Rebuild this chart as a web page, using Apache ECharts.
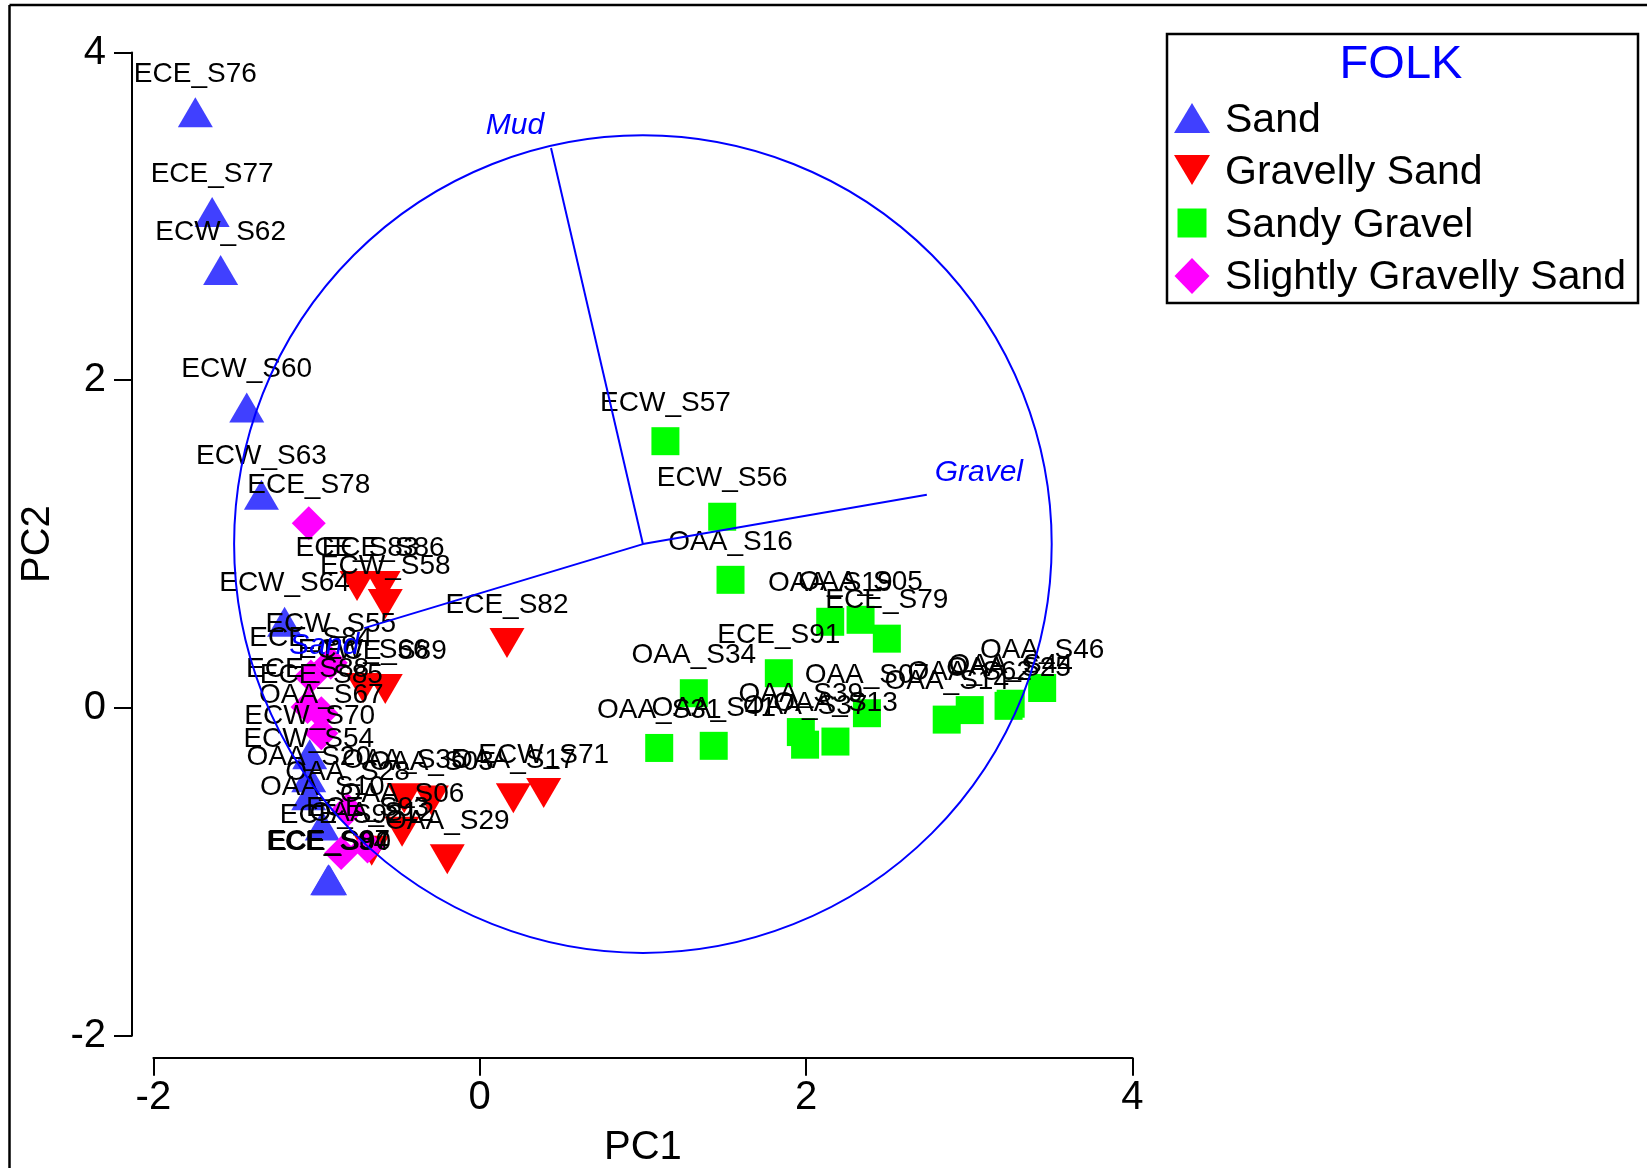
<!DOCTYPE html>
<html>
<head>
<meta charset="utf-8">
<title>PCA biplot – FOLK classes</title>
<script src="https://cdn.jsdelivr.net/npm/echarts@6/dist/echarts.min.js"></script>
<style>
  html, body { margin: 0; padding: 0; background: #ffffff; }
  #chart { width: 1647px; height: 1168px; }
</style>
</head>
<body>
<div id="chart"></div>
<script>
// FOLK sediment classes, in legend order
const folkClasses = ['Sand', 'Gravelly Sand', 'Sandy Gravel', 'Slightly Gravelly Sand'];

// Sample scores on PC1 / PC2, grouped by class
const sandNames = ['ECE_S76', 'ECE_S77', 'ECW_S62', 'ECW_S60', 'ECW_S63', 'ECW_S64', 'ECW_S70',
  'ECW_S54', 'OAA_S20', 'OAA_S10', 'ECE_S90', 'ECE_S87', 'ECE_S94'];
const sandScores = [[-1.743, 3.635], [-1.640, 3.026], [-1.588, 2.673], [-1.428, 1.833], [-1.338, 1.301],
  [-1.196, 0.526], [-1.042, -0.282], [-1.048, -0.423], [-1.048, -0.532], [-0.965, -0.718],
  [-0.920, -1.051], [-0.926, -1.045], [-0.932, -1.051]];

const gravellySandNames = ['ECE_S83', 'ECE_S86', 'ECW_S58', 'ECE_S82', 'ECW_S66', 'ECE_S89', 'OAA_S35',
  'OAA_S03', 'OAA_S06', 'OAA_S12', 'OAA_S29', 'OAA_S17', 'ECW_S71'];
const gravellySandScores = [[-0.752, 0.744], [-0.592, 0.744], [-0.579, 0.635], [0.167, 0.397],
  [-0.714, 0.122], [-0.579, 0.115], [-0.463, -0.551], [-0.296, -0.564], [-0.476, -0.756],
  [-0.662, -0.872], [-0.199, -0.923], [0.206, -0.551], [0.392, -0.519]];

const sandyGravelNames = ['ECW_S57', 'ECW_S56', 'OAA_S16', 'OAA_S19', 'OAA_S05', 'ECE_S79', 'ECE_S91',
  'OAA_S34', 'OAA_S31', 'OAA_S41', 'OAA_S39', 'OAA_S37', 'OAA_S13', 'OAA_S07', 'OAA_S14', 'OAA_S62',
  'OAA_S25', 'OAA_S44', 'OAA_S46'];
const sandyGravelScores = [[1.138, 1.628], [1.486, 1.167], [1.537, 0.782], [2.148, 0.526], [2.334, 0.538],
  [2.495, 0.423], [1.833, 0.212], [1.312, 0.090], [1.100, -0.244], [1.434, -0.231], [1.968, -0.147],
  [1.994, -0.224], [2.180, -0.205], [2.373, -0.032], [2.862, -0.071], [3.003, -0.013], [3.241, 0.013],
  [3.254, 0.026], [3.447, 0.122]];

const slightlyGravellySandNames = ['ECE_S78', 'ECW_S55', 'ECE_S84', 'ECE_S88', 'ECE_S85', 'OAA_S67',
  'OAA_S28', 'ECE_S92', 'ECE_S93'];
const slightlyGravellySandScores = [[-1.048, 1.128], [-0.913, 0.276], [-1.035, 0.192], [-1.055, 0.006],
  [-0.971, -0.032], [-0.971, -0.154], [-0.810, -0.622], [-0.849, -0.885], [-0.688, -0.846]];

// Variable loadings: arrow origin, arrow tips and the correlation circle
const loadingNames = ['Mud', 'Gravel', 'Sand'];
const loadingTips = [[0.437, 3.417], [2.740, 1.301], [-0.708, 0.487]];
const loadingOrigin = [1.0, 1.0];
const circleRadius = 2.5;

// Axis ticks
const pc1Ticks = [-2, 0, 2, 4];
const pc2Ticks = [-2, 0, 2, 4];

// ---------------------------------------------------------------------------
const FONT = 'Liberation Sans, Arial, Helvetica, sans-serif';
const classColours = ['#4040ff', '#ff0000', '#00ff00', '#ff00ff'];
const downTriangle = 'path://M0,0L2,0L1,1.7Z';
const classSymbols = [
  { symbol: 'triangle', symbolSize: [35, 30] },
  { symbol: downTriangle, symbolSize: [35, 30] },
  { symbol: 'rect', symbolSize: [28, 28] },
  { symbol: 'diamond', symbolSize: [34, 34] }
];
const groups = [
  [sandNames, sandScores],
  [gravellySandNames, gravellySandScores],
  [sandyGravelNames, sandyGravelScores],
  [slightlyGravellySandNames, slightlyGravellySandScores]
];

const scatterSeries = groups.map(([names, scores], i) => ({
  type: 'scatter',
  name: folkClasses[i],
  z: 2,
  symbol: classSymbols[i].symbol,
  symbolSize: classSymbols[i].symbolSize,
  symbolKeepAspect: false,
  itemStyle: { color: classColours[i], opacity: 1 },
  label: {
    show: true,
    position: 'inside',
    offset: [0, -38],
    formatter: '{b}',
    fontFamily: FONT,
    fontSize: 28,
    color: '#000000'
  },
  data: scores.map((p, k) => ({ name: names[k], value: p }))
}));

// pixel offsets of the loading names from their arrow tips
const tagOffset = { Mud: [-36, -22], Gravel: [52, -22], Sand: [-40, 17] };

const circleSeries = {
  type: 'custom',
  coordinateSystem: 'cartesian2d',
  silent: true,
  clip: false,
  z: 4,
  data: [[loadingOrigin[0], loadingOrigin[1], circleRadius]],
  renderItem: (params, api) => {
    const c = api.coord([api.value(0), api.value(1)]);
    const s = api.size([api.value(2), api.value(2)]);
    return {
      type: 'circle',
      shape: { cx: c[0], cy: c[1], r: (s[0] + s[1]) / 2 },
      style: { fill: 'none', stroke: '#0000ff', lineWidth: 2 }
    };
  }
};

const loadingSeries = {
  type: 'custom',
  coordinateSystem: 'cartesian2d',
  silent: true,
  clip: false,
  z: 4,
  data: loadingTips.map((t, i) => ({ name: loadingNames[i], value: t })),
  renderItem: (params, api) => {
    const o = api.coord(loadingOrigin);
    const t = api.coord([api.value(0), api.value(1)]);
    const name = loadingNames[params.dataIndex];
    const off = tagOffset[name];
    return {
      type: 'group',
      children: [
        {
          type: 'line',
          shape: { x1: o[0], y1: o[1], x2: t[0], y2: t[1] },
          style: { stroke: '#0000ff', lineWidth: 2 }
        },
        {
          type: 'text',
          x: t[0] + off[0],
          y: t[1] + off[1],
          style: {
            text: name,
            fill: '#0000ff',
            fontFamily: FONT,
            fontSize: 30,
            fontStyle: 'italic',
            align: 'center',
            verticalAlign: 'middle'
          }
        }
      ]
    };
  }
};

// Legend box, drawn as graphics
const LX = 1192, LT = 1225;
const iconRows = [118, 170, 223, 276];
const textRows = [121, 173, 226, 278];
const legendIcons = [
  { type: 'polygon', shape: { points: [[LX - 18, iconRows[0] + 15], [LX + 18, iconRows[0] + 15], [LX, iconRows[0] - 15]] } },
  { type: 'polygon', shape: { points: [[LX - 18, iconRows[1] - 15], [LX + 18, iconRows[1] - 15], [LX, iconRows[1] + 15]] } },
  { type: 'rect', shape: { x: LX - 14.5, y: iconRows[2] - 14.5, width: 29, height: 29 } },
  { type: 'polygon', shape: { points: [[LX, iconRows[3] - 18], [LX + 17.5, iconRows[3]], [LX, iconRows[3] + 18], [LX - 17.5, iconRows[3]]] } }
];
const legendGraphics = [
  {
    type: 'rect',
    shape: { x: 1167, y: 34, width: 471, height: 269 },
    style: { fill: '#ffffff', stroke: '#000000', lineWidth: 2.5 },
    z: 10
  },
  {
    type: 'text',
    x: 1401, y: 65,
    style: { text: 'FOLK', fill: '#0000ff', fontFamily: FONT, fontSize: 47, align: 'center', verticalAlign: 'middle' },
    z: 11
  }
];
folkClasses.forEach((cls, i) => {
  legendGraphics.push(Object.assign({}, legendIcons[i], { style: { fill: classColours[i] }, z: 11 }));
  legendGraphics.push({
    type: 'text',
    x: LT, y: textRows[i],
    style: { text: cls, fill: '#000000', fontFamily: FONT, fontSize: 41, align: 'left', verticalAlign: 'middle' },
    z: 11
  });
});

const chart = echarts.init(document.getElementById('chart'), null, { renderer: 'canvas' });
chart.setOption({
  animation: false,
  backgroundColor: '#ffffff',
  textStyle: { fontFamily: FONT },
  grid: {
    left: 153.4, right: 514.6, top: 52.5, bottom: 132.3,
    containLabel: false,
    outerBoundsMode: 'none'
  },
  xAxis: {
    type: 'value',
    min: pc1Ticks[0], max: pc1Ticks[pc1Ticks.length - 1], interval: 2,
    offset: 22,
    name: 'PC1',
    nameLocation: 'middle',
    nameGap: 70,
    nameTextStyle: { fontSize: 40, color: '#000000', fontFamily: FONT },
    axisLine: { onZero: false, lineStyle: { color: '#000000', width: 2 } },
    axisTick: { show: true, inside: false, length: 18, lineStyle: { color: '#000000', width: 2 } },
    axisLabel: { fontSize: 40, color: '#000000', margin: 20, fontFamily: FONT },
    splitLine: { show: false }
  },
  yAxis: {
    type: 'value',
    min: pc2Ticks[0], max: pc2Ticks[pc2Ticks.length - 1], interval: 2,
    offset: 21.4,
    name: 'PC2',
    nameLocation: 'middle',
    nameGap: 74,
    nameRotate: 90,
    nameTextStyle: { fontSize: 40, color: '#000000', fontFamily: FONT },
    axisLine: { onZero: false, lineStyle: { color: '#000000', width: 2 } },
    axisTick: { show: true, inside: false, length: 18, lineStyle: { color: '#000000', width: 2 } },
    axisLabel: { fontSize: 40, color: '#000000', margin: 26, fontFamily: FONT },
    splitLine: { show: false }
  },
  graphic: [
    { type: 'line', shape: { x1: 9.5, y1: 5, x2: 9.5, y2: 1168 }, style: { stroke: '#000000', lineWidth: 2.5 } },
    { type: 'line', shape: { x1: 9.5, y1: 5, x2: 1647, y2: 5 }, style: { stroke: '#000000', lineWidth: 2.5 } }
  ].concat(legendGraphics),
  series: scatterSeries.concat([circleSeries, loadingSeries])
});
</script>
</body>
</html>
